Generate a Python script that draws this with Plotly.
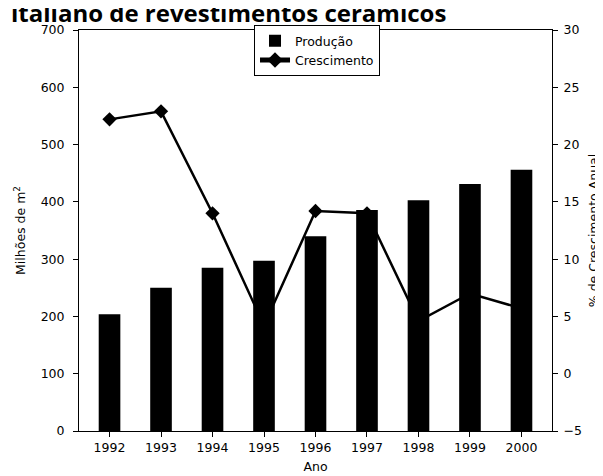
import plotly.graph_objects as go

anos = ["1992", "1993", "1994", "1995", "1996", "1997", "1998", "1999", "2000"]
producao = [204, 250, 285, 297, 340, 386, 403, 431, 456]
crescimento = [22.2, 22.9, 14.0, 4.2, 14.2, 14.0, 4.6, 7.0, 5.7]

FONT = "DejaVu Sans"

fig = go.Figure()
fig.add_trace(go.Scatter(x=anos, y=crescimento, name="Crescimento", yaxis="y2",
                         mode="lines+markers",
                         line=dict(color="black", width=2.5),
                         marker=dict(symbol="diamond", size=11, color="black")))
fig.add_trace(go.Bar(x=anos, y=producao, name="Produção",
                     marker=dict(color="black", line=dict(width=0))))

fig.update_layout(
    width=603, height=476,
    margin=dict(l=70, r=52, t=22, b=52),
    paper_bgcolor="white", plot_bgcolor="white",
    font=dict(family=FONT, size=12.5, color="black"),
    bargap=0.58,
    showlegend=True,
    legend=dict(x=0.37, y=1.012, xanchor="left", yanchor="top",
                bordercolor="black", borderwidth=1, bgcolor="white",
                font=dict(family=FONT, size=12.5), traceorder="reversed",
                tracegroupgap=0, itemsizing="constant", itemwidth=30),
    xaxis=dict(type="category", showline=True, linecolor="black", linewidth=1,
               mirror=True, ticks="outside", ticklen=5, tickcolor="black",
               showgrid=False,
               title=dict(text="Ano", font=dict(family=FONT, size=12.5), standoff=8)),
    yaxis=dict(range=[0, 700], dtick=100, showline=True, linecolor="black",
               linewidth=1, ticks="outside", ticklen=5, tickcolor="black",
               showgrid=False, zeroline=False, ticklabelstandoff=6,
               title=dict(text="Milhões de m<sup>2</sup>", font=dict(family=FONT, size=12.5),
                          standoff=12)),
    yaxis2=dict(range=[-5, 30], dtick=5, overlaying="y", side="right",
                showline=True, linecolor="black", linewidth=1, ticks="outside",
                ticklen=5, tickcolor="black", showgrid=False, zeroline=False,
                ticklabelstandoff=3,
                title=dict(text="% de Crescimento Anual", font=dict(family=FONT, size=12.5),
                           standoff=8)),
    annotations=[
        dict(text="italiano de revestimentos cerâmicos", xref="paper", yref="paper",
             x=-0.148, y=1.043, xanchor="left", yanchor="middle", showarrow=False,
             font=dict(family="Open Sans", size=24, color="black", weight="bold")),
    ],
)

fig.write_html("out.html")
